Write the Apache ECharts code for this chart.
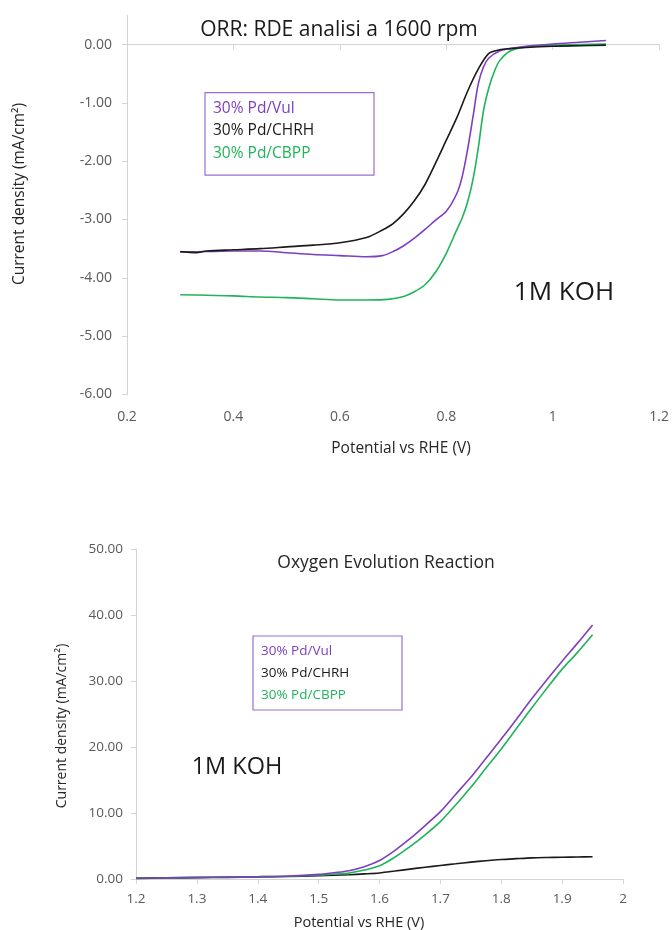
<!DOCTYPE html>
<html>
<head>
<meta charset="utf-8">
<title>ORR / OER</title>
<script src="https://cdn.jsdelivr.net/npm/echarts@6/dist/echarts.min.js"></script>
<style>
  html, body { margin: 0; padding: 0; background: #ffffff; }
  #chart { width: 672px; height: 930px; }
</style>
</head>
<body>
<div id="chart"></div>
<script>
// Series names and colours
const seriesNames = ['30% Pd/Vul', '30% Pd/CHRH', '30% Pd/CBPP'];
const seriesColors = ['#7d3fc0', '#1a1a1a', '#1fb45a'];

// ORR, RDE at 1600 rpm: potential (V vs RHE) and current density (mA/cm2)
const orrVulPotential = [0.30, 0.35, 0.40, 0.45, 0.50, 0.55, 0.60, 0.65, 0.68, 0.70, 0.72, 0.74, 0.76, 0.78, 0.80, 0.82, 0.83, 0.84, 0.85, 0.86, 0.87, 0.88, 0.90, 0.92, 0.95, 1.00, 1.05, 1.10];
const orrVulCurrent   = [-3.56, -3.55, -3.54, -3.54, -3.57, -3.60, -3.62, -3.64, -3.62, -3.55, -3.45, -3.32, -3.17, -3.01, -2.86, -2.55, -2.26, -1.80, -1.25, -0.68, -0.38, -0.23, -0.11, -0.07, -0.03, 0.01, 0.04, 0.07];

const orrChrhPotential = [0.30, 0.33, 0.35, 0.40, 0.45, 0.50, 0.55, 0.60, 0.65, 0.68, 0.70, 0.72, 0.74, 0.76, 0.78, 0.80, 0.82, 0.84, 0.86, 0.88, 0.90, 0.92, 0.95, 1.00, 1.05, 1.10];
const orrChrhCurrent   = [-3.55, -3.57, -3.54, -3.52, -3.50, -3.47, -3.44, -3.40, -3.31, -3.18, -3.07, -2.90, -2.68, -2.40, -2.03, -1.64, -1.25, -0.80, -0.42, -0.15, -0.09, -0.07, -0.05, -0.03, -0.02, -0.01];

const orrCbppPotential = [0.30, 0.35, 0.40, 0.45, 0.50, 0.55, 0.60, 0.65, 0.69, 0.72, 0.74, 0.76, 0.78, 0.80, 0.82, 0.83, 0.84, 0.85, 0.86, 0.87, 0.88, 0.89, 0.90, 0.92, 0.95, 1.00, 1.05, 1.10];
const orrCbppCurrent   = [-4.29, -4.30, -4.31, -4.33, -4.34, -4.36, -4.38, -4.38, -4.37, -4.32, -4.24, -4.12, -3.90, -3.58, -3.17, -2.97, -2.70, -2.32, -1.78, -1.13, -0.74, -0.47, -0.28, -0.11, -0.04, -0.01, 0.00, 0.01];

// OER: potential (V vs RHE) and current density (mA/cm2)
const oerPotential = [1.20, 1.25, 1.30, 1.35, 1.40, 1.45, 1.50, 1.525, 1.55, 1.575, 1.60, 1.625, 1.65, 1.675, 1.70, 1.725, 1.75, 1.775, 1.80, 1.825, 1.85, 1.875, 1.90, 1.925, 1.95];
const oerVulCurrent  = [0.15, 0.20, 0.25, 0.30, 0.35, 0.45, 0.70, 0.95, 1.25, 1.85, 2.80, 4.30, 6.10, 8.10, 10.2, 12.8, 15.4, 18.3, 21.2, 24.2, 27.3, 30.2, 33.0, 35.7, 38.5];
const oerChrhCurrent = [0.10, 0.15, 0.20, 0.25, 0.30, 0.38, 0.50, 0.57, 0.65, 0.77, 0.92, 1.20, 1.50, 1.78, 2.05, 2.30, 2.55, 2.77, 2.95, 3.08, 3.20, 3.26, 3.30, 3.34, 3.38];
const oerCbppCurrent = [0.15, 0.20, 0.25, 0.30, 0.35, 0.42, 0.60, 0.75, 0.90, 1.35, 2.00, 3.30, 4.90, 6.70, 8.70, 11.2, 13.9, 16.8, 19.7, 22.8, 25.9, 28.9, 31.8, 34.3, 37.0];

// Axis ticks
const orrXTicks = [0.2, 0.4, 0.6, 0.8, 1.0, 1.2];
const orrYTicks = [-6, -5, -4, -3, -2, -1, 0];
const oerXTicks = [1.2, 1.3, 1.4, 1.5, 1.6, 1.7, 1.8, 1.9, 2.0];
const oerYTicks = [0, 10, 20, 30, 40, 50];

const FONT = 'Open Sans';
const zip = (xs, ys) => xs.map((x, i) => [x, ys[i]]);

const axisLineStyle = { show: true, lineStyle: { color: '#d4d4d4', width: 1 } };
const axisTickStyle = (len) => ({ show: true, inside: false, length: len, lineStyle: { color: '#d4d4d4', width: 1 } });

function lineSeries(name, color, data, axisIdx) {
  return {
    type: 'line', name: name, data: data,
    xAxisIndex: axisIdx, yAxisIndex: axisIdx,
    showSymbol: false, symbol: 'none', smooth: 0.3, clip: false,
    lineStyle: { color: color, width: 1.6 }, itemStyle: { color: color },
    animation: false, z: 3
  };
}

function legendBox(x, y, w, h, lineGap, fontSize) {
  const children = [{
    type: 'rect', shape: { x: 0, y: 0, width: w, height: h },
    style: { fill: '#ffffff', stroke: '#9a6fd0', lineWidth: 1.2 }
  }];
  seriesNames.forEach((n, i) => {
    children.push({
      type: 'text',
      style: {
        x: 8, y: 15.5 + i * lineGap, text: n, fill: seriesColors[i],
        font: fontSize + 'px "' + FONT + '"', textAlign: 'left', textVerticalAlign: 'middle'
      }
    });
  });
  return { type: 'group', x: x, y: y, children: children, z: 10 };
}

function label(text, x, y, size, color, rotate) {
  return {
    type: 'text', x: x, y: y, rotation: rotate ? Math.PI / 2 : 0, z: 10,
    style: {
      text: text, fill: color, font: size + 'px "' + FONT + '"',
      textAlign: 'center', textVerticalAlign: 'middle'
    }
  };
}

const chart = echarts.init(document.getElementById('chart'), null, { renderer: 'canvas' });

chart.setOption({
  animation: false,
  backgroundColor: '#ffffff',
  textStyle: { fontFamily: FONT },
  grid: [
    { left: 127, top: 15.4, width: 537, height: 379 },
    { left: 136, top: 549, width: 487, height: 330 }
  ],
  xAxis: [
    {
      type: 'value', gridIndex: 0, min: 0.2, max: 1.2, interval: 0.2,
      axisLine: axisLineStyle, axisTick: axisTickStyle(5), splitLine: { show: false },
      axisLabel: { color: '#595959', fontSize: 14, margin: 16, fontFamily: FONT,
                   customValues: orrXTicks, formatter: v => String(+v.toFixed(1)) }
    },
    {
      type: 'value', gridIndex: 1, min: 1.2, max: 2.0, interval: 0.1,
      axisLine: axisLineStyle, axisTick: axisTickStyle(5), splitLine: { show: false },
      axisLabel: { color: '#595959', fontSize: 13.5, margin: 13, fontFamily: FONT,
                   customValues: oerXTicks, formatter: v => String(+v.toFixed(1)) }
    }
  ],
  yAxis: [
    {
      type: 'value', gridIndex: 0, min: -6, max: 0.5, interval: 1,
      axisLine: axisLineStyle, splitLine: { show: false },
      axisTick: Object.assign(axisTickStyle(5), { customValues: orrYTicks }),
      axisLabel: { color: '#595959', fontSize: 14, margin: 15, fontFamily: FONT,
                   customValues: orrYTicks, formatter: v => v.toFixed(2) }
    },
    {
      type: 'value', gridIndex: 1, min: 0, max: 50, interval: 10,
      axisLine: axisLineStyle, axisTick: axisTickStyle(5), splitLine: { show: false },
      axisLabel: { color: '#595959', fontSize: 13.5, margin: 13, fontFamily: FONT,
                   customValues: oerYTicks, formatter: v => v.toFixed(2) }
    }
  ],
  series: [
    lineSeries(seriesNames[2], seriesColors[2], zip(orrCbppPotential, orrCbppCurrent), 0),
    lineSeries(seriesNames[0], seriesColors[0], zip(orrVulPotential, orrVulCurrent), 0),
    lineSeries(seriesNames[1], seriesColors[1], zip(orrChrhPotential, orrChrhCurrent), 0),
    lineSeries(seriesNames[1], seriesColors[1], zip(oerPotential, oerChrhCurrent), 1),
    lineSeries(seriesNames[2], seriesColors[2], zip(oerPotential, oerCbppCurrent), 1),
    lineSeries(seriesNames[0], seriesColors[0], zip(oerPotential, oerVulCurrent), 1)
  ],
  graphic: [
    label('ORR: RDE analisi a 1600 rpm', 339, 30, 21, '#1a1a1a'),
    label('Current density (mA/cm\u00B2)', 20, 194, 15.5, '#262626', true),
    label('Potential vs RHE (V)', 401, 449, 15.5, '#262626'),
    label('1M KOH', 564, 293, 26, '#1a1a1a'),
    legendBox(205, 92.7, 169, 82.5, 22.5, 15.5),

    label('Oxygen Evolution Reaction', 386, 563, 17.5, '#262626'),
    label('Current density (mA/cm\u00B2)', 62, 726, 14, '#262626', true),
    label('Potential vs RHE (V)', 359, 923, 14.5, '#262626'),
    label('1M KOH', 237, 767, 23.5, '#1a1a1a'),
    legendBox(253, 636, 149, 74, 22, 13.5)
  ]
});
</script>
</body>
</html>
